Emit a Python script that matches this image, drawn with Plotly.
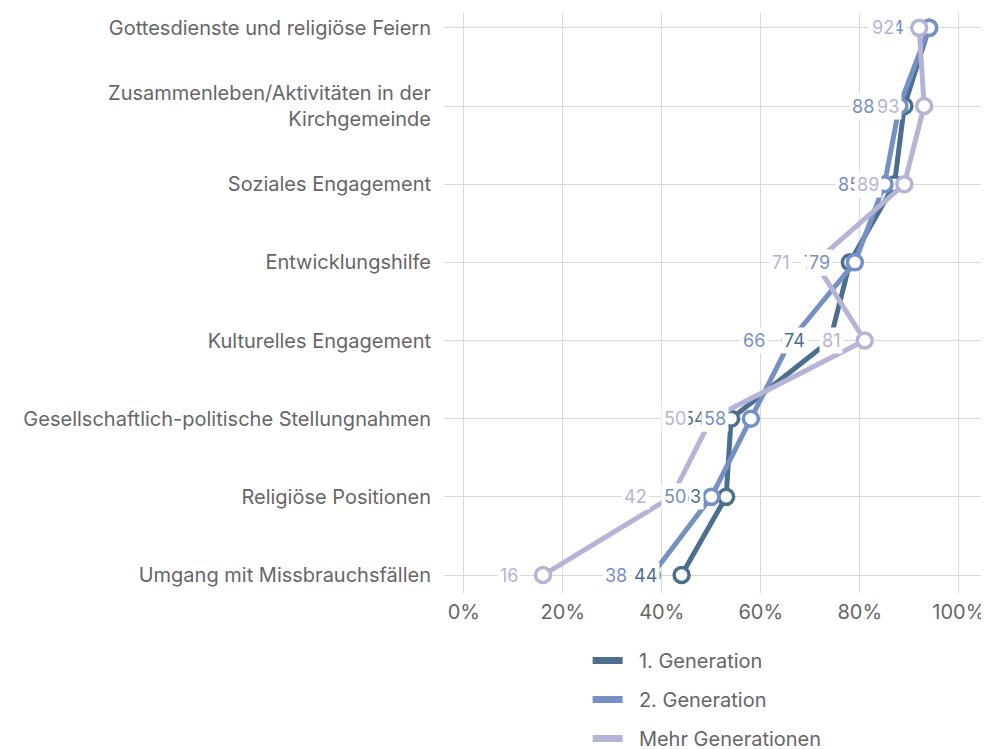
import plotly.graph_objects as go

categories = [
    'Gottesdienste und religiöse Feiern',
    'Zusammenleben/Aktivitäten in der<br>Kirchgemeinde',
    'Soziales Engagement',
    'Entwicklungshilfe',
    'Kulturelles Engagement',
    'Gesellschaftlich-politische Stellungnahmen',
    'Religiöse Positionen',
    'Umgang mit Missbrauchsfällen',
]

gen_1 = [94, 89, 87, 78, 74, 54, 53, 44]
gen_2 = [94, 88, 85, 79, 66, 58, 50, 38]
gen_multi = [92, 93, 89, 71, 81, 50, 42, 16]

series = [
    ('1. Generation', gen_1, '#4b6f8f'),
    ('2. Generation', gen_2, '#7590c4'),
    ('Mehr Generationen', gen_multi, '#b4b4d7'),
]

x_ticks = [0, 20, 40, 60, 80, 100]
x_tick_labels = ['0%', '20%', '40%', '60%', '80%', '100%']

font_family = 'Inter, Roboto, Arial, sans-serif'
text_gray = '#666666'

fig = go.Figure()

for i, (name, values, color) in enumerate(series):
    fig.add_trace(go.Scatter(
        x=values,
        y=list(range(len(categories))),
        mode='lines+markers',
        name=name,
        line=dict(color=color, width=5),
        marker=dict(size=15, color='white', line=dict(color=color, width=3.5)),
        showlegend=False,
        hoverinfo='skip',
    ))
    # legend-only entry so the legend shows just the line
    fig.add_trace(go.Scatter(
        x=[None],
        y=[None],
        mode='lines',
        name='\u00a0\u00a0' + name,
        line=dict(color=color, width=7),
        legendgroup=f'g{i}',
    ))

annotations = []
for name, values, color in series:
    for idx, v in enumerate(values):
        annotations.append(dict(
            x=v,
            y=idx,
            xref='x',
            yref='y',
            text=str(v),
            showarrow=False,
            xanchor='right',
            yanchor='middle',
            xshift=-22,
            bgcolor='white',
            borderpad=2,
            font=dict(family=font_family, size=18, color=color),
        ))

# the page body adds ~7px on the top/left, margins compensate for it
fig.update_layout(
    width=989,
    height=749,
    margin=dict(l=436, r=11, t=5, b=164),
    plot_bgcolor='white',
    paper_bgcolor='white',
    font=dict(family=font_family, size=20, color=text_gray),
    annotations=annotations,
    legend=dict(
        x=0.265,
        y=0.155,
        yref='container',
        xanchor='left',
        yanchor='top',
        orientation='v',
        tracegroupgap=10,
        font=dict(family=font_family, size=20, color=text_gray),
    ),
)

fig.update_xaxes(
    range=[-4, 105.5],
    tickvals=x_ticks,
    ticktext=x_tick_labels,
    showgrid=True,
    gridcolor='#d9d9d9',
    gridwidth=1,
    zeroline=False,
    showline=False,
    automargin=False,
    ticklabelstandoff=5,
    tickfont=dict(size=20, color=text_gray),
)

fig.update_yaxes(
    range=[7.23, -0.19],
    tickvals=list(range(len(categories))),
    ticktext=categories,
    showgrid=True,
    gridcolor='#d9d9d9',
    gridwidth=1,
    zeroline=False,
    showline=False,
    automargin=False,
    ticklabelstandoff=12,
    tickfont=dict(size=20, color=text_gray),
)

fig.write_html('out.html')
